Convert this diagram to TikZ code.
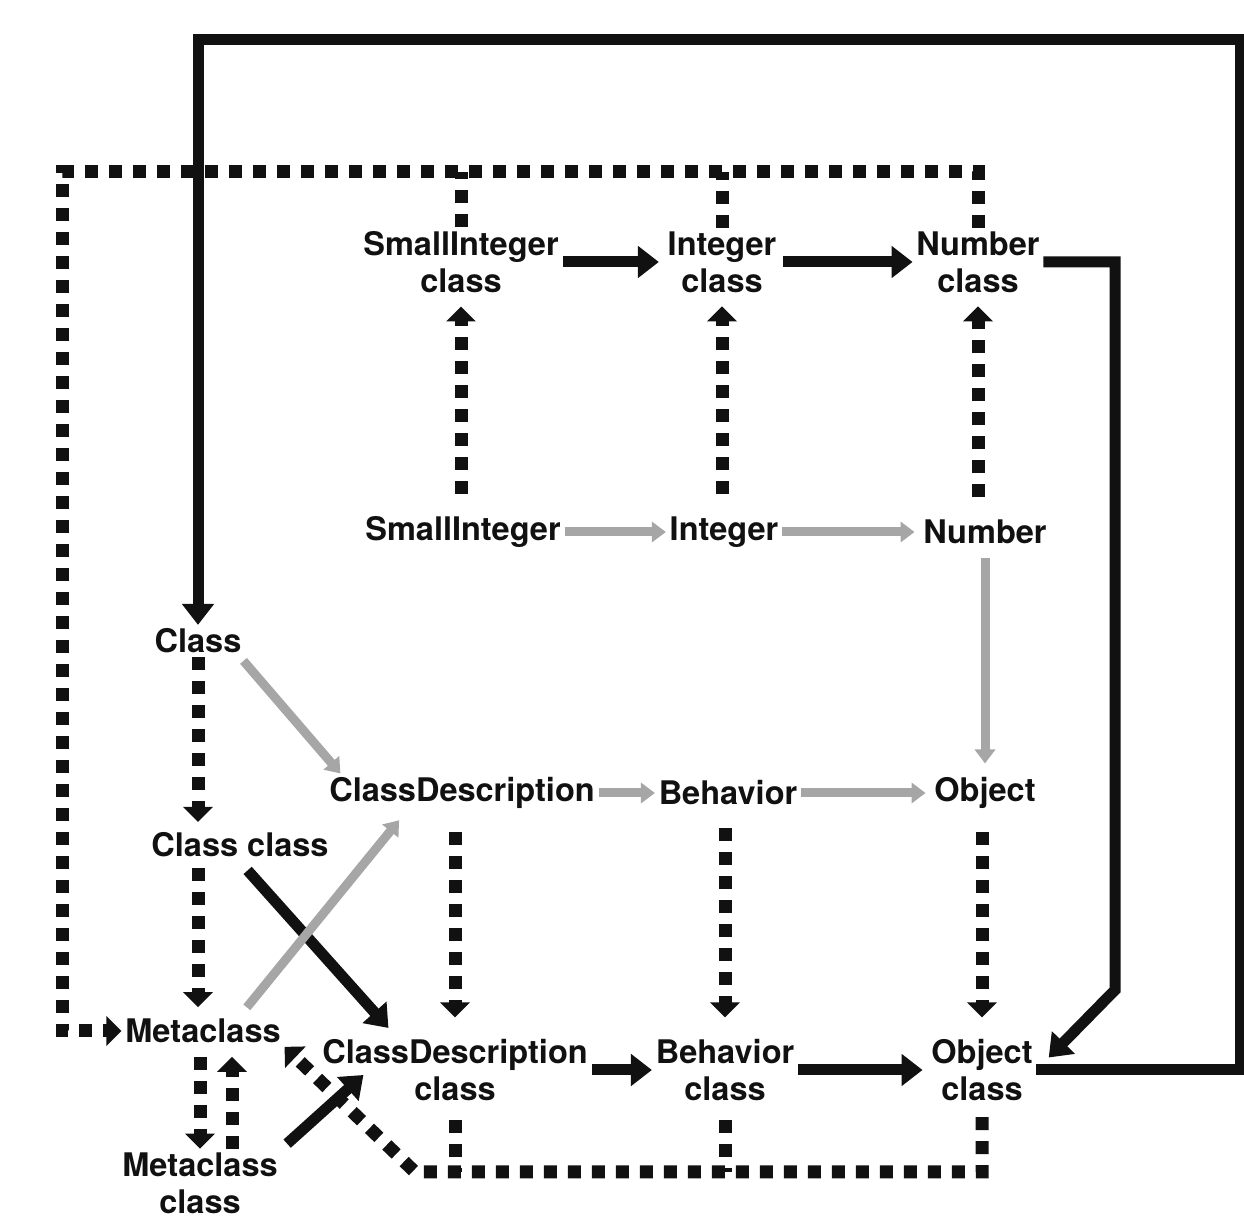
\documentclass[tikz,border=0pt]{standalone}
\usepackage{fontspec}
\setmainfont{TeX Gyre Heros}
\usepackage{xcolor}
\usetikzlibrary{arrows.meta}
\definecolor{MRInk}{HTML}{111111}
\definecolor{MRGrey}{HTML}{A6A6A6}

\begin{document}
\begin{tikzpicture}[x=1cm,y=1cm,
  lbl/.style={font=\fontsize{18.5}{21}\selectfont\bfseries,align=center,inner sep=2pt,text=MRInk},
  solidarrow/.style={draw=MRInk,line width=0.22cm,-{Triangle[length=0.42cm,width=0.62cm]}},
  dotline/.style={draw=MRInk,line width=0.26cm,dash pattern=on 0.26cm off 0.22cm},
  dotarrow/.style={dotline,-{Triangle[length=0.3cm,width=0.58cm]}},
  greyarrow/.style={draw=MRGrey,line width=0.18cm,-{Triangle[length=0.28cm,width=0.4cm]}}]
\path[use as bounding box] (0,0) rectangle (24.88,24.54);
% classes and their metaclasses
\node[lbl] (sic) at (9.22,19.30) {SmallInteger\\class};
\node[lbl] (icl) at (14.44,19.30) {Integer\\class};
\node[lbl] (ncl) at (19.56,19.30) {Number\\class};
\node[lbl] (si) at (9.26,13.90) {SmallInteger};
\node[lbl] (int) at (14.48,13.90) {Integer};
\node[lbl] (num) at (19.70,13.90) {Number};
\node[lbl] (cls) at (3.96,11.72) {Class};
\node[lbl] (cd) at (9.24,8.68) {ClassDescription};
\node[lbl] (beh) at (14.56,8.68) {Behavior};
\node[lbl] (obj) at (19.70,8.68) {Object};
\node[lbl] (clc) at (4.80,7.64) {Class class};
\node[lbl] (meta) at (4.06,3.92) {Metaclass};
\node[lbl] (cdc) at (9.10,3.14) {ClassDescription\\class};
\node[lbl] (bc) at (14.50,3.14) {Behavior\\class};
\node[lbl] (oc) at (19.64,3.14) {Object\\class};
\node[lbl] (mc) at (4.00,0.88) {Metaclass\\class};
\coordinate (topR) at (24.80,23.74);
\coordinate (loopTL) at (1.24,21.10);
\coordinate (nknee) at (22.30,4.74);
\coordinate (botL) at (8.30,1.10);
\coordinate (mcR) at ([xshift=0.64cm]mc.north);
% solid (superclass) links
\draw[solidarrow] (oc.east) -| (topR) -| (cls.north);
\draw[solidarrow,shorten >=0.35cm] (ncl.east) -| (nknee) -- (oc.east);
\draw[solidarrow,shorten >=0.1cm] (sic.east) -- (icl.west);
\draw[solidarrow,shorten <=0.05cm] (icl.east) -- (ncl.west);
\draw[solidarrow] (cdc.east) -- (bc.west);
\draw[solidarrow,shorten >=0.1cm] (bc.east) -- (oc.west);
\draw[solidarrow,shorten <=0.25cm,shorten >=0.2cm] ([xshift=-0.2cm]clc.-60) -- (cdc.150);
\draw[solidarrow,shorten <=0.15cm] (mc.north east) -- ([xshift=0.9cm,yshift=-0.1cm]cdc.west);
% dotted (instance) links
\draw[dotarrow] (ncl.north) |- (loopTL) |- (meta.west);
\draw[dotline] (sic.north) -- (sic.north |- loopTL);
\draw[dotline] (icl.north) -- (icl.north |- loopTL);
\draw[dotarrow,shorten <=0.25cm] (oc.south) |- (botL) -- (meta.south east);
\draw[dotline,shorten <=0.3cm] (cdc.south) -- (cdc.south |- botL);
\draw[dotline,shorten <=0.3cm] (bc.south) -- (bc.south |- botL);
\foreach \a/\b in {si/sic,int/icl,num/ncl}
  \draw[dotarrow,shorten <=0.38cm,shorten >=0.2cm] (\b.south |- \a.north) -- (\b.south);
\foreach \a/\b in {cd/cdc,beh/bc,obj/oc}
  \draw[dotarrow,shorten <=0.38cm,shorten >=0.36cm] (\b.north |- \a.south) -- (\b.north);
\draw[dotarrow,shorten >=0.14cm] (cls.south) -- (cls.south |- clc.north);
\draw[dotarrow,shorten <=0.14cm,shorten >=0.16cm] (cls.south |- clc.south) -- (cls.south |- meta.north);
\draw[dotarrow,shorten <=0.2cm] (mc.north |- meta.south) -- (mc.north);
\draw[dotarrow,shorten >=0.2cm] (mcR) -- (mcR |- meta.south);
% grey links
\draw[greyarrow] (si.east) -- (int.west);
\draw[greyarrow,shorten >=0.1cm] (int.east) -- (num.west);
\draw[greyarrow,shorten <=0.2cm,shorten >=0.2cm] (num.south) -- (num.south |- obj.north);
\draw[greyarrow,shorten <=0.1cm] ([xshift=-0.1cm]cls.south east) -- ([xshift=0.3cm]cd.north west);
\draw[greyarrow,shorten <=0.2cm,shorten >=0.2cm] ([xshift=0.75cm]meta.north) -- ([xshift=1.6cm]cd.south west);
\draw[greyarrow] (cd.east) -- (beh.west);
\draw[greyarrow,shorten >=0.1cm] (beh.east) -- (obj.west);
\end{tikzpicture}
\end{document}
